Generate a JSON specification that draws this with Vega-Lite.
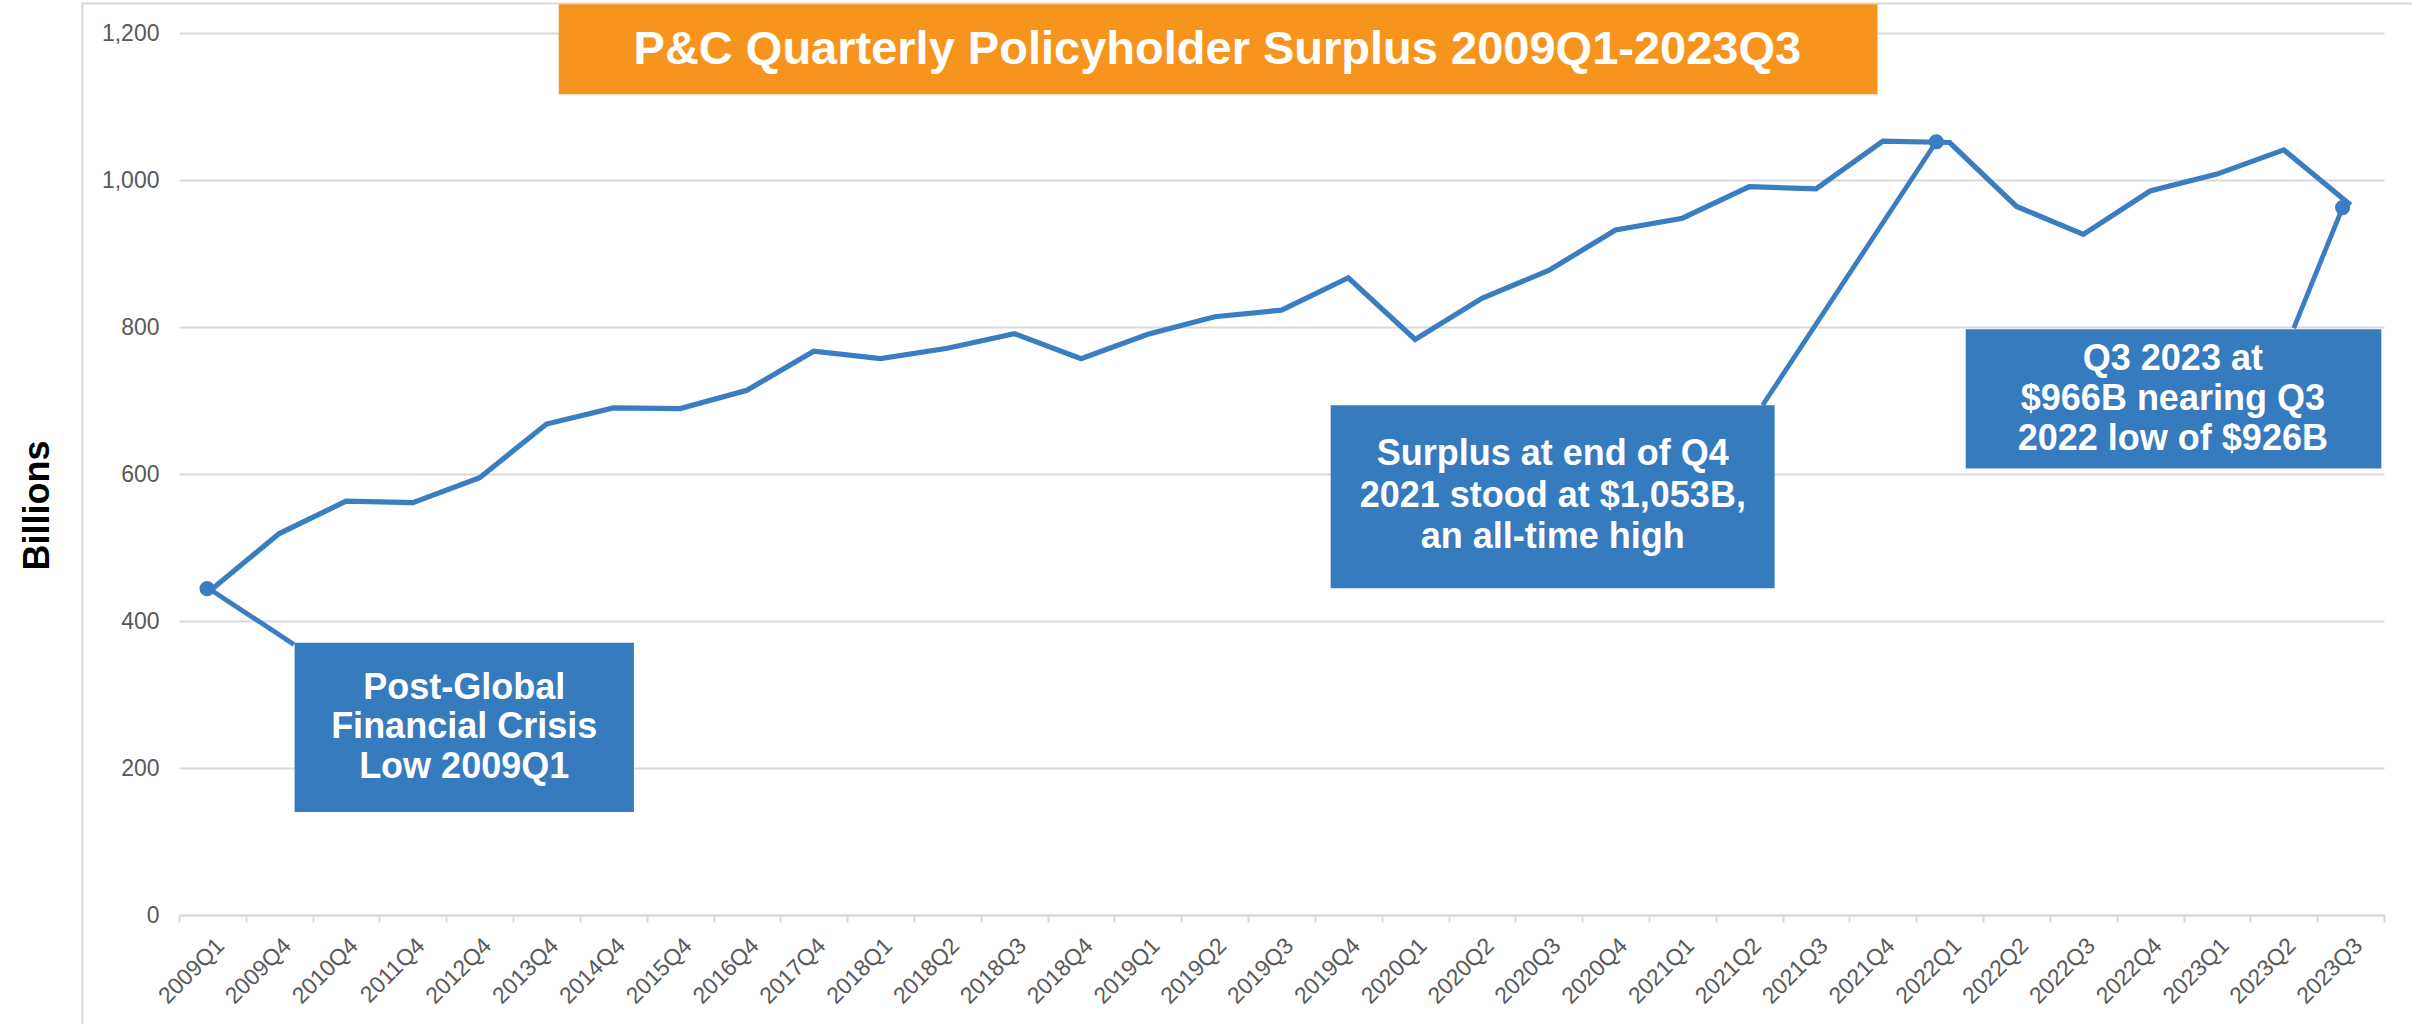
{
  "$schema": "https://vega.github.io/schema/vega-lite/v6.json",
  "width": 2205,
  "height": 882,
  "autosize": {"type": "none"},
  "padding": {"left": 179, "top": 33, "right": 28, "bottom": 109},
  "background": "white",
  "config": {"font": "Liberation Sans", "view": {"stroke": null}, "numberFormat": ","},
  "data": {
    "values": [
      {"quarter": "2009Q1", "surplus": 444},
      {"quarter": "2009Q4", "surplus": 519},
      {"quarter": "2010Q4", "surplus": 563},
      {"quarter": "2011Q4", "surplus": 561},
      {"quarter": "2012Q4", "surplus": 595},
      {"quarter": "2013Q4", "surplus": 668},
      {"quarter": "2014Q4", "surplus": 690},
      {"quarter": "2015Q4", "surplus": 689},
      {"quarter": "2016Q4", "surplus": 714},
      {"quarter": "2017Q4", "surplus": 767},
      {"quarter": "2018Q1", "surplus": 757},
      {"quarter": "2018Q2", "surplus": 771},
      {"quarter": "2018Q3", "surplus": 791},
      {"quarter": "2018Q4", "surplus": 757},
      {"quarter": "2019Q1", "surplus": 790},
      {"quarter": "2019Q2", "surplus": 814},
      {"quarter": "2019Q3", "surplus": 823},
      {"quarter": "2019Q4", "surplus": 867},
      {"quarter": "2020Q1", "surplus": 783},
      {"quarter": "2020Q2", "surplus": 839},
      {"quarter": "2020Q3", "surplus": 877},
      {"quarter": "2020Q4", "surplus": 932},
      {"quarter": "2021Q1", "surplus": 948},
      {"quarter": "2021Q2", "surplus": 991},
      {"quarter": "2021Q3", "surplus": 988},
      {"quarter": "2021Q4", "surplus": 1053},
      {"quarter": "2022Q1", "surplus": 1051},
      {"quarter": "2022Q2", "surplus": 964},
      {"quarter": "2022Q3", "surplus": 926},
      {"quarter": "2022Q4", "surplus": 985},
      {"quarter": "2023Q1", "surplus": 1008},
      {"quarter": "2023Q2", "surplus": 1041},
      {"quarter": "2023Q3", "surplus": 966}
    ]
  },
  "resolve": {"scale": {"x": "independent"}, "axis": {"x": "independent"}},
  "layer": [
    {
      "mark": {"type": "line", "color": "#3A7DC1", "strokeWidth": 5.2},
      "encoding": {
        "x": {
          "field": "quarter", "type": "ordinal", "sort": null, "bandPosition": 0.5,
          "scale": {"type": "band", "paddingInner": 0, "paddingOuter": 0},
          "axis": {
            "title": null, "labelAngle": -45, "labelFontSize": 23, "labelColor": "#595959",
            "domainColor": "#D9D9D9", "domainWidth": 2, "tickColor": "#D9D9D9", "tickWidth": 2,
            "tickSize": 7, "tickBand": "extent", "labelPadding": 12, "grid": false
          }
        },
        "y": {
          "field": "surplus", "type": "quantitative",
          "scale": {"domain": [0, 1200], "nice": false},
          "axis": {
            "title": "Billions", "values": [0, 200, 400, 600, 800, 1000, 1200],
            "labelExpr": "format(datum.value, ',')",
            "labelFontSize": 23, "labelColor": "#595959", "labelPadding": 20, "ticks": false,
            "domain": false, "gridColor": "#D9D9D9", "gridWidth": 2,
            "titleFontSize": 36, "titleFontWeight": "bold", "titleColor": "#000000",
            "titlePadding": 45, "titleY": 472
          }
        }
      }
    },
    {
      "data": {"values": [{}]},
      "layer": [
        {
          "mark": {"type": "rect", "fillOpacity": 0, "stroke": "#D9D9D9", "strokeWidth": 2},
          "encoding": {
            "x": {"datum": -1.446, "type": "quantitative", "scale": {"domain": [0, 33], "nice": false, "zero": false}, "axis": null},
            "x2": {"datum": 36},
            "y": {"datum": 1240, "type": "quantitative"},
            "y2": {"datum": -300}
          }
        },
        {
          "mark": {"type": "rect", "color": "#F7941E"},
          "encoding": {
            "x": {"datum": 5.683, "type": "quantitative", "scale": {"domain": [0, 33], "nice": false, "zero": false}, "axis": null},
            "x2": {"datum": 25.42},
            "y": {"datum": 1239, "type": "quantitative"},
            "y2": {"datum": 1116.6}
          }
        },
        {
          "mark": {"type": "text", "text": "P&C Quarterly Policyholder Surplus 2009Q1-2023Q3", "fontSize": 47, "fontWeight": "bold", "color": "white", "align": "center", "baseline": "alphabetic"},
          "encoding": {
            "x": {"datum": 15.54, "type": "quantitative", "scale": {"domain": [0, 33], "nice": false, "zero": false}, "axis": null},
            "y": {"datum": 1158.4, "type": "quantitative"}
          }
        },
        {
          "mark": {"type": "rule", "color": "#3A7DC1", "strokeWidth": 4.8},
          "encoding": {
            "x": {"datum": 0.45, "type": "quantitative", "scale": {"domain": [0, 33], "nice": false, "zero": false}, "axis": null},
            "x2": {"datum": 1.72},
            "y": {"datum": 444, "type": "quantitative"},
            "y2": {"datum": 368}
          }
        },
        {
          "mark": {"type": "rule", "color": "#3A7DC1", "strokeWidth": 4.8},
          "encoding": {
            "x": {"datum": 23.70, "type": "quantitative", "scale": {"domain": [0, 33], "nice": false, "zero": false}, "axis": null},
            "x2": {"datum": 26.30},
            "y": {"datum": 693.6, "type": "quantitative"},
            "y2": {"datum": 1052}
          }
        },
        {
          "mark": {"type": "rule", "color": "#3A7DC1", "strokeWidth": 4.8},
          "encoding": {
            "x": {"datum": 31.65, "type": "quantitative", "scale": {"domain": [0, 33], "nice": false, "zero": false}, "axis": null},
            "x2": {"datum": 32.38},
            "y": {"datum": 798.4, "type": "quantitative"},
            "y2": {"datum": 962.5}
          }
        },
        {
          "mark": {"type": "rect", "color": "#367BBE"},
          "encoding": {
            "x": {"datum": 1.730, "type": "quantitative", "scale": {"domain": [0, 33], "nice": false, "zero": false}, "axis": null},
            "x2": {"datum": 6.808},
            "y": {"datum": 370.3, "type": "quantitative"},
            "y2": {"datum": 140.1}
          }
        },
        {
          "mark": {"type": "rect", "color": "#367BBE"},
          "encoding": {
            "x": {"datum": 17.236, "type": "quantitative", "scale": {"domain": [0, 33], "nice": false, "zero": false}, "axis": null},
            "x2": {"datum": 23.88},
            "y": {"datum": 693.6, "type": "quantitative"},
            "y2": {"datum": 444.7}
          }
        },
        {
          "mark": {"type": "rect", "color": "#367BBE"},
          "encoding": {
            "x": {"datum": 26.74, "type": "quantitative", "scale": {"domain": [0, 33], "nice": false, "zero": false}, "axis": null},
            "x2": {"datum": 32.96},
            "y": {"datum": 797.0, "type": "quantitative"},
            "y2": {"datum": 607.5}
          }
        },
        {
          "mark": {"type": "text", "text": ["Post-Global", "Financial Crisis", "Low 2009Q1"], "lineHeight": 39.5, "fontSize": 36, "fontWeight": "bold", "color": "white", "align": "center", "baseline": "alphabetic"},
          "encoding": {
            "x": {"datum": 4.268, "type": "quantitative", "scale": {"domain": [0, 33], "nice": false, "zero": false}, "axis": null},
            "y": {"datum": 294, "type": "quantitative"}
          }
        },
        {
          "mark": {"type": "text", "text": ["Surplus at end of Q4", "2021 stood at $1,053B,", "an all-time high"], "lineHeight": 41.5, "fontSize": 36, "fontWeight": "bold", "color": "white", "align": "center", "baseline": "alphabetic"},
          "encoding": {
            "x": {"datum": 20.56, "type": "quantitative", "scale": {"domain": [0, 33], "nice": false, "zero": false}, "axis": null},
            "y": {"datum": 612, "type": "quantitative"}
          }
        },
        {
          "mark": {"type": "text", "text": ["Q3 2023 at", "$966B nearing Q3", "2022 low of $926B"], "lineHeight": 40, "fontSize": 36, "fontWeight": "bold", "color": "white", "align": "center", "baseline": "alphabetic"},
          "encoding": {
            "x": {"datum": 29.84, "type": "quantitative", "scale": {"domain": [0, 33], "nice": false, "zero": false}, "axis": null},
            "y": {"datum": 741.2, "type": "quantitative"}
          }
        },
        {
          "mark": {"type": "circle", "color": "#3A7DC1", "size": 230, "opacity": 1},
          "encoding": {
            "x": {"datum": 0.42, "type": "quantitative", "scale": {"domain": [0, 33], "nice": false, "zero": false}, "axis": null},
            "y": {"datum": 444, "type": "quantitative"}
          }
        },
        {
          "mark": {"type": "circle", "color": "#3A7DC1", "size": 230, "opacity": 1},
          "encoding": {
            "x": {"datum": 26.30, "type": "quantitative", "scale": {"domain": [0, 33], "nice": false, "zero": false}, "axis": null},
            "y": {"datum": 1052, "type": "quantitative"}
          }
        },
        {
          "mark": {"type": "circle", "color": "#3A7DC1", "size": 230, "opacity": 1},
          "encoding": {
            "x": {"datum": 32.38, "type": "quantitative", "scale": {"domain": [0, 33], "nice": false, "zero": false}, "axis": null},
            "y": {"datum": 962.5, "type": "quantitative"}
          }
        }
      ]
    }
  ]
}
